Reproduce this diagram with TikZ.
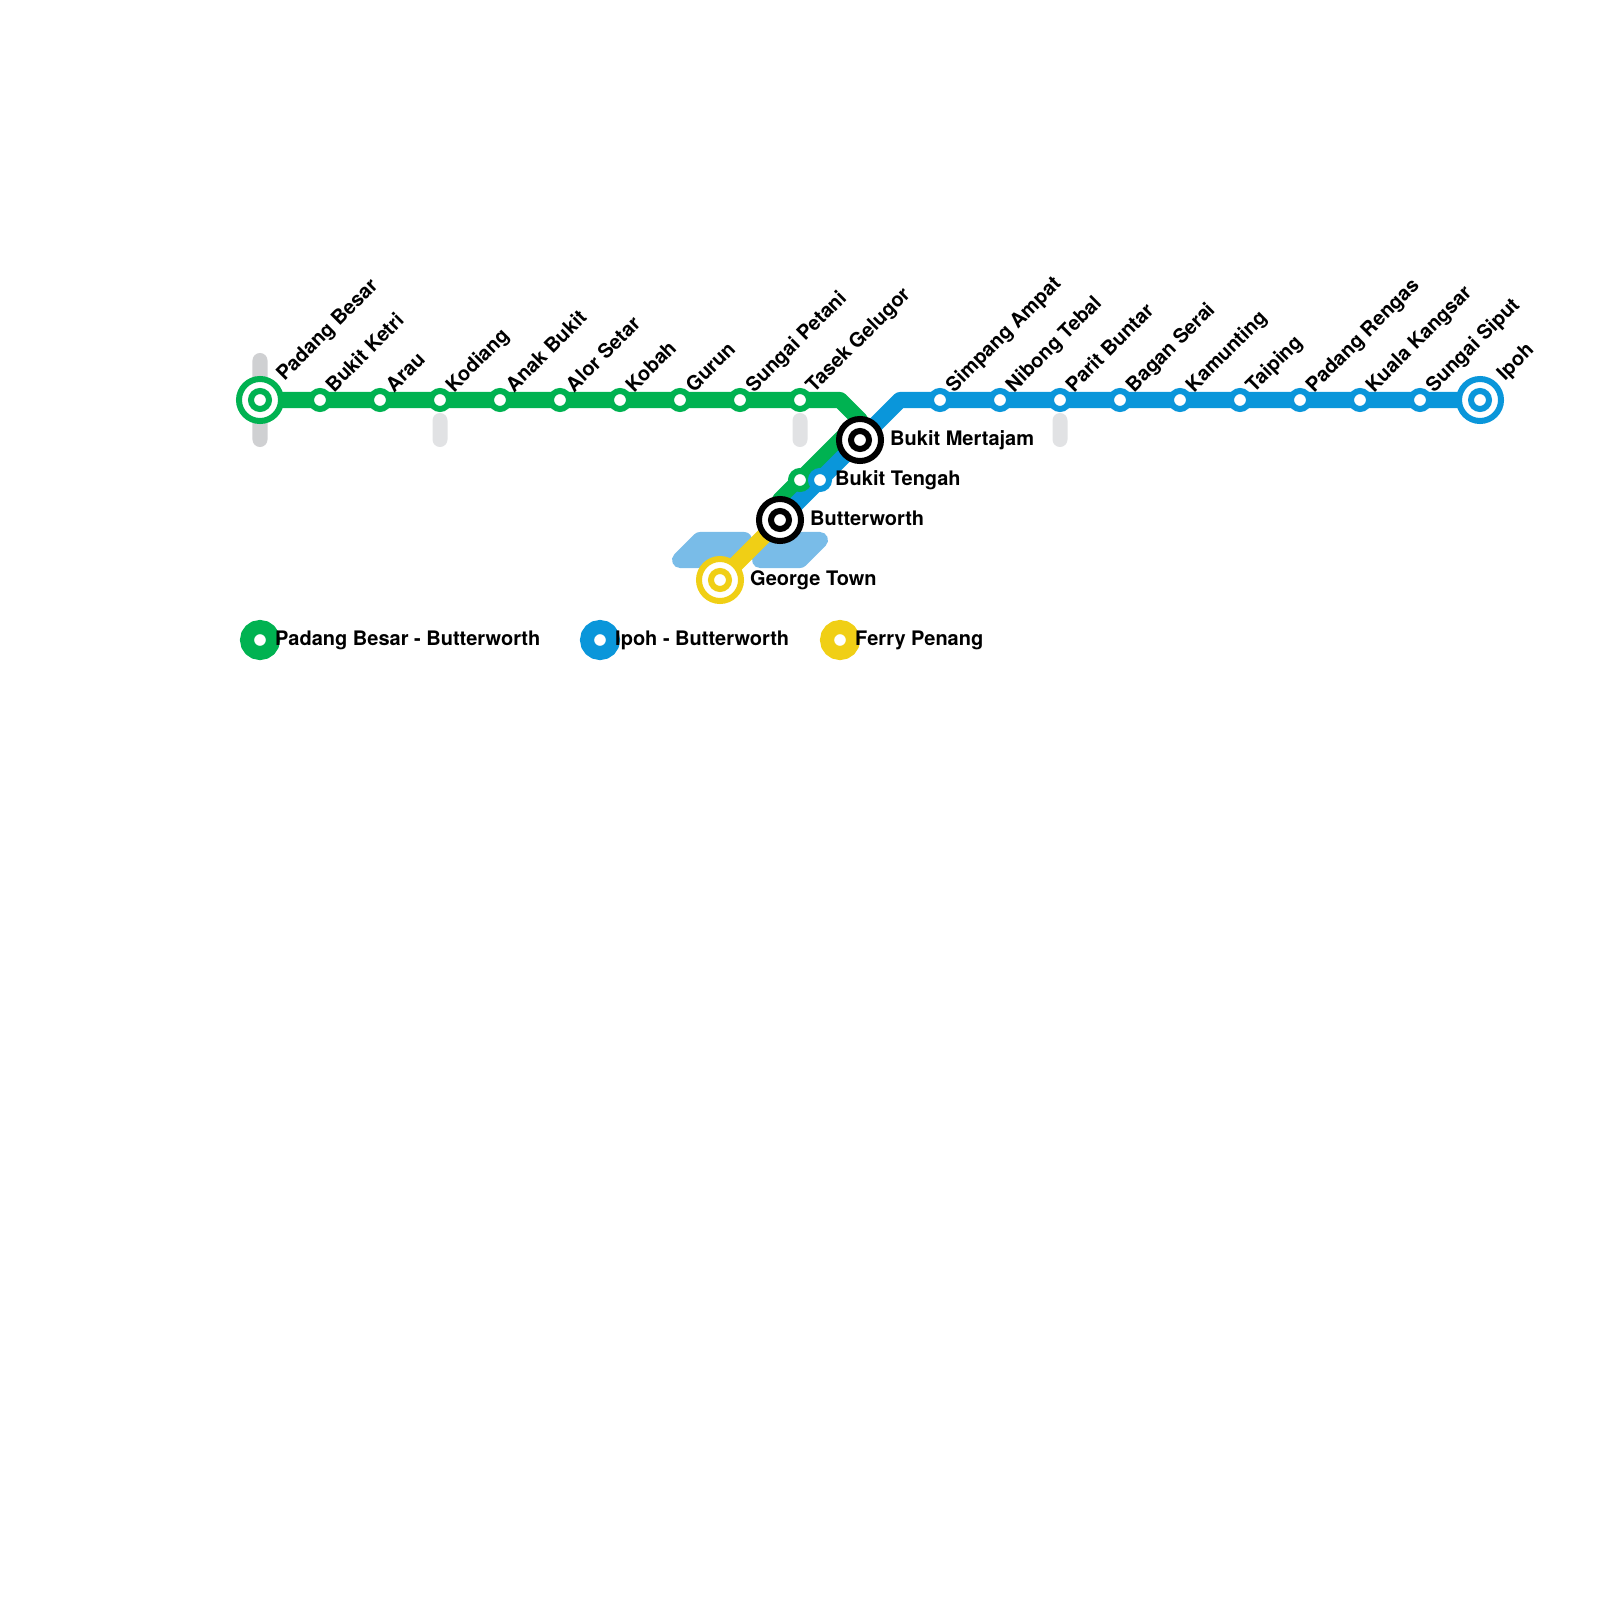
\documentclass[tikz,border=0pt]{standalone}
\usepackage{fontspec}
\setmainfont{TeX Gyre Heros}
\usepackage{xcolor}
\usepackage{tikz}
\usetikzlibrary{positioning, backgrounds}

\definecolor{lineGreen}{HTML}{00B251}
\definecolor{lineBlue}{HTML}{0A96DA}
\definecolor{lineYellow}{HTML}{F0CF15}
\definecolor{waterBlue}{HTML}{79BCE8}
\definecolor{barDark}{HTML}{CFD0D2}
\definecolor{barLight}{HTML}{E1E2E4}

\tikzset{
    railline/.style={line width=1.6mm, line join=round},
    water/.style={line width=1.6mm, line join=round, draw=waterBlue, fill=waterBlue},
    halt/.style={draw=#1, circle, fill=white, line width=0.6mm, minimum size=1.8mm, inner sep=0pt, outer sep=0pt},
    ringout/.style={draw=#1, circle, fill=white, line width=0.6mm, minimum size=4.2mm, inner sep=0pt, outer sep=0pt},
    keydot/.style={draw=#1, circle, fill=white, line width=1.4mm, minimum size=2.6mm, inner sep=0pt, outer sep=0pt},
    sidebar/.style={fill=#1, rounded corners=0.75mm, minimum width=1.5mm, inner sep=0pt, outer sep=0pt},
    slanted/.style={anchor=base west, rotate=45, inner sep=0pt, font=\fontsize{5.69}{7}\selectfont\bfseries},
    flat/.style={anchor=base west, inner sep=0pt, font=\fontsize{5.69}{7}\selectfont\bfseries}
}

\begin{document}
\begin{tikzpicture}[x=0.01cm, y=-0.01cm]
    \useasboundingbox (0,0) rectangle (1600,1600);

    % Transfer bars
    \node[sidebar=barDark, minimum height=9.4mm] (barPadang) at (260,400) {};
    \node[sidebar=barLight, minimum height=3.4mm] (barKodiang) at (440,430) {};
    \node[sidebar=barLight, minimum height=3.4mm] (barTasek) at (800,430) {};
    \node[sidebar=barLight, minimum height=3.4mm] (barParit) at (1060,430) {};

    % Green line halts
    \foreach \i/\name in {1/Bukit Ketri, 2/Arau, 3/Kodiang, 4/Anak Bukit, 5/Alor Setar,
                          6/Kobah, 7/Gurun, 8/Sungai Petani, 9/Tasek Gelugor} {
        \node[halt=lineGreen] (green\i) at ({260+60*\i}, 400) {};
        \node[slanted] (greenText\i) at ({273.5+60*\i}, 393.5) {\name};
    }

    % Blue line halts
    \foreach \i/\name in {1/Simpang Ampat, 2/Nibong Tebal, 3/Parit Buntar, 4/Bagan Serai, 5/Kamunting,
                          6/Taiping, 7/Padang Rengas, 8/Kuala Kangsar, 9/Sungai Siput} {
        \node[halt=lineBlue] (blue\i) at ({880+60*\i}, 400) {};
        \node[slanted] (blueText\i) at ({893.5+60*\i}, 393.5) {\name};
    }

    % Terminals and interchanges
    \foreach \id/\x/\y/\col in {padang/260/400/lineGreen, ipoh/1480/400/lineBlue,
                                mertajam/860/440/black, butterworth/780/520/black,
                                george/720/580/lineYellow} {
        \node[ringout=\col] (\id) at (\x, \y) {};
        \node[halt=\col] (\id Core) at (\x, \y) {};
    }
    \node[slanted] (padangText) at (284, 382) {Padang Besar};
    \node[slanted] (ipohText) at (1504.5, 381.5) {Ipoh};

    % Bukit Tengah pair
    \node[halt=lineGreen] (tengahGreen) at (800, 480) {};
    \node[halt=lineBlue] (tengahBlue) at (820, 480) {};

    % Flat labels
    \node[flat] (mertajamText) at (889.5, 445) {Bukit Mertajam};
    \node[flat] (tengahText) at (834.5, 485) {Bukit Tengah};
    \node[flat] (butterworthText) at (809.5, 525) {Butterworth};
    \node[flat] (georgeText) at (749.5, 585) {George Town};

    % Legend
    \foreach \id/\x/\col/\name in {keyGreen/260/lineGreen/Padang Besar - Butterworth,
                                   keyBlue/600/lineBlue/Ipoh - Butterworth,
                                   keyYellow/840/lineYellow/Ferry Penang} {
        \node[keydot=\col] (\id) at (\x, 640) {};
        \node[flat] (\id Text) at ({\x+14.5}, 645) {\name};
    }

    % Lines go under the halts
    \begin{scope}[on background layer]
        \coordinate (greenEnd) at (840, 400);
        \coordinate (greenTurn) at (860, 420);
        \coordinate (greenFoot) at (780, 500);
        \coordinate (blueTurn) at (900, 400);
        \coordinate (lobeA) at (680, 560);
        \coordinate (lobeB) at (700, 540);
        \coordinate (lobeC) at (744, 540);
        \coordinate (lobeD) at (722, 560);
        \coordinate (lobeE) at (760, 560);
        \coordinate (lobeF) at (780, 540);
        \coordinate (lobeG) at (820, 540);
        \coordinate (lobeH) at (800, 560);

        % Water
        \draw[water] (lobeA) -- (lobeB) -- (lobeC) -- (lobeD) -- cycle;
        \draw[water] (lobeE) -- (lobeF) -- (lobeG) -- (lobeH) -- cycle;

        \draw[railline, lineGreen] (padang.center) -- (green9.center) -- (greenEnd) -- (greenTurn)
            -- (greenFoot) -- (butterworth.center);
        \draw[railline, lineBlue] (ipoh.center) -- (blue1.center) -- (blueTurn) -- (mertajam.center)
            -- (tengahBlue.center) -- (butterworth.center);
        \draw[railline, lineYellow] (butterworth.center) -- (george.center);
    \end{scope}
\end{tikzpicture}
\end{document}
